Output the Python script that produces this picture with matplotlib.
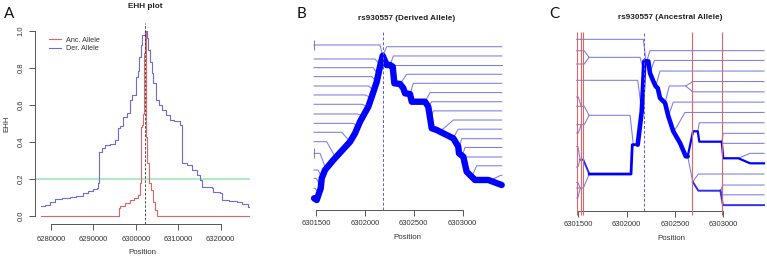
import matplotlib
matplotlib.use('Agg')
import matplotlib.pyplot as plt
from matplotlib.lines import Line2D

plt.rcParams['font.family'] = ['Liberation Sans', 'DejaVu Sans']

W, H = 767, 257

# ---------------- Panel A : EHH decay ----------------
der_x = [6277570, 6278500, 6279760, 6281000, 6282500, 6284480, 6286000, 6287600, 6288800,
         6289970, 6290770, 6291150, 6291390, 6292000, 6292730, 6294000, 6295090, 6295870,
         6296300, 6296900, 6297800, 6298620, 6299200, 6300040, 6300500, 6300820, 6301100,
         6301500, 6302190, 6302700, 6302930, 6303300, 6303730, 6304110, 6304750, 6305400,
         6306090, 6307000, 6308050, 6309000, 6310400, 6310800, 6310950, 6312000, 6313160,
         6314340, 6315120, 6315520, 6317880, 6318300, 6319830, 6320230, 6322000, 6323770,
         6325000, 6326510, 6326900]
der_y = [0.054, 0.060, 0.077, 0.092, 0.095, 0.104, 0.110, 0.122, 0.135,
         0.144, 0.150, 0.176, 0.347, 0.365, 0.383, 0.390, 0.410, 0.473,
         0.486, 0.536, 0.554, 0.626, 0.654, 0.752, 0.780, 0.860, 0.923,
         0.977, 1.000, 0.959, 0.896, 0.830, 0.770, 0.716, 0.626, 0.600,
         0.572, 0.545, 0.518, 0.510, 0.491, 0.482, 0.284, 0.275, 0.248,
         0.221, 0.194, 0.158, 0.150, 0.130, 0.122, 0.086, 0.079, 0.073,
         0.066, 0.047, 0.047]
anc_x = [6277570, 6296100, 6296300, 6297440, 6298620, 6299500, 6300580, 6300980, 6301150,
         6301400, 6301700, 6301900, 6302190, 6302350, 6302450, 6302700, 6303100, 6303570,
         6304110, 6304500, 6304910, 6326900]
anc_y = [0.0, 0.045, 0.055, 0.068, 0.086, 0.095, 0.113, 0.176, 0.480,
         0.490, 0.550, 0.880, 1.000, 0.600, 0.428, 0.284, 0.176, 0.140,
         0.077, 0.030, 0.0, 0.0]
core_pos = 6302180
ehh_limit = 0.2
a_xticks = [6280000, 6290000, 6300000, 6310000, 6320000]
a_yticks = [0.0, 0.2, 0.4, 0.6, 0.8, 1.0]
bc_xticks = [6301500, 6302000, 6302500, 6303000]

# ---------------- Panel B : derived allele bifurcation ----------------
b_main_x = [6301480, 6301507, 6301524, 6301548, 6301558, 6301592, 6301677, 6301848, 6301899,
            6301950, 6302035, 6302070, 6302121, 6302154, 6302182, 6302223, 6302257, 6302284,
            6302301, 6302359, 6302393, 6302410, 6302461, 6302479, 6302615, 6302648, 6302683,
            6302734, 6302904, 6302955, 6302962, 6303006, 6303041, 6303126, 6303262, 6303399]
b_main_y = [16.75, 16.94, 16.39, 15.66, 14.57, 13.66, 12.57, 10.57, 9.65,
            8.38, 6.74, 5.65, 4.01, 2.37, 1.17, 2.19, 2.19, 2.37,
            4.19, 4.26, 4.73, 5.28, 5.36, 6.20, 6.20, 6.74, 9.10,
            9.29, 10.20, 11.11, 11.84, 12.20, 13.85, 14.75, 14.75, 15.30]
b_left_end = 6301480
b_left_depart_x = [6302182, 6302172, 6302138, 6302121, 6302086, 6302070, 6302035, 6301985,
                   6301929, 6301848, 6301694, 6301592, 6301555, 6301548, 6301524]
b_left_depart_y = [1.17, 2.37, 3.28, 4.01, 4.92, 5.79, 6.74, 7.70,
                   8.90, 10.57, 12.20, 13.30, 14.40, 15.40, 16.17]
b_left_kink_x = [6302154, 6302103, 6302086, 6302070, 6302035, 6302001, 6301967, 6301916,
                 6301881, 6301763, 6301609, 6301541, 6301520, 6301500, 6301490]
b_left_level = [0.0, 1.53, 2.48, 3.46, 4.48, 5.46, 6.48, 7.54,
                8.56, 9.54, 10.57, 11.84, 13.66, 14.57, 15.66]
b_left_tick_level = [0.0, 11.84]
b_right_end = 6303399
b_right_depart_x = [6302182, 6302257, 6302284, 6302359, 6302461, 6302615, 6302648, 6302671,
                    6302768, 6302900, 6302958, 6302996, 6303018, 6303092, 6303279]
b_right_depart_y = [1.17, 2.19, 2.20, 4.26, 5.36, 6.20, 6.74, 8.30,
                    9.47, 10.20, 11.50, 12.10, 12.80, 14.40, 14.80]
b_right_kink_x = [6302223, 6302291, 6302290, 6302427, 6302495, 6302666, 6302683, 6302700,
                  6302904, 6302955, 6302990, 6303023, 6303041, 6303143, 6303390]
b_right_level = [0.19, 1.20, 2.20, 3.20, 4.19, 5.20, 6.20, 7.20,
                 8.20, 9.20, 10.24, 11.20, 12.24, 13.20, 14.24]

# ---------------- Panel C : ancestral allele bifurcation ----------------
c_main_x = [6302114, 6302156, 6302183, 6302224, 6302241, 6302276, 6302300, 6302321, 6302345,
            6302397, 6302431, 6302482, 6302552, 6302611, 6302631]
c_main_y = [10.23, 6.99, 2.14, 2.14, 3.27, 4.08, 4.56, 4.73, 5.70,
            6.18, 7.48, 8.93, 10.07, 11.36, 11.36]
c_stem_left_x = [6301614, 6302045, 6302058, 6302114]
c_stem_left_y = [13.08, 13.08, 10.23, 10.23]
c_stem_right_x = [6302631, 6302686, 6302735, 6302751, 6302983, 6302999, 6303155, 6303276, 6303420]
c_stem_right_y = [11.36, 8.93, 8.93, 9.94, 9.94, 11.55, 11.55, 12.04, 12.04]
c_branch_x = [
    [6302207, 6302241, 6303420], [6302241, 6302286, 6303420], [6302300, 6302345, 6303420],
    [6302397, 6302440, 6302610, 6302683, 6303420], [6302610, 6302683, 6303420],
    [6302431, 6302482, 6303420], [6302490, 6302603, 6303420], [6302735, 6302751, 6303420],
    [6302983, 6302999, 6303420], [6302983, 6302999, 6303420], [6303155, 6303276, 6303420],
    [6302631, 6302683, 6302741, 6303420], [6302683, 6302741, 6302969],
    [6302969, 6302995, 6303420], [6302969, 6302995, 6303420], [6302969, 6302995, 6303420],
    [6302200, 6302172, 6301483], [6302175, 6302138, 6301611], [6301611, 6301562, 6301483],
    [6301611, 6301562, 6301483], [6302156, 6302114, 6301483], [6302069, 6302035, 6301611],
    [6301611, 6301562, 6301483], [6301611, 6301562, 6301483], [6301530, 6301500, 6301483],
    [6301530, 6301500, 6301483], [6301614, 6301552, 6301520], [6301520, 6301495, 6301483],
    [6301520, 6301495, 6301483], [6301614, 6301552, 6301483], [6301520, 6301495, 6301483],
    [6301520, 6301495, 6301483]]
c_branch_y = [
    [2.14, 1.10, 1.10], [3.27, 2.05, 2.05], [4.56, 3.08, 3.08],
    [6.18, 4.53, 4.53, 4.10, 4.10], [4.53, 5.10, 5.10],
    [7.48, 6.10, 6.10], [8.95, 7.10, 7.10], [8.93, 8.10, 8.10],
    [9.94, 9.13, 9.13], [9.94, 10.10, 10.10], [11.55, 11.07, 11.07],
    [11.36, 13.83, 13.08, 13.08], [13.83, 14.70, 14.70],
    [14.70, 14.15, 14.15], [14.70, 15.10, 15.10], [14.70, 16.10, 16.10],
    [2.14, 0.0, 0.0], [3.00, 1.75, 1.75], [1.75, 1.11, 1.11],
    [1.75, 2.40, 2.40], [6.99, 3.98, 3.98], [10.23, 7.38, 7.38],
    [7.38, 6.50, 6.50], [7.38, 8.29, 8.29], [6.50, 5.60, 5.60],
    [8.29, 9.10, 9.10], [13.08, 11.69, 11.69], [11.69, 10.40, 10.40],
    [11.69, 12.40, 12.40], [13.08, 14.44, 14.44], [14.44, 13.90, 13.90],
    [14.44, 15.40, 15.40]]
c_branch_kind = ['t', 't', 't', 't', 't', 't', 't', 't', 't', 't', 't', 't', 'm', 't', 't', 'm',
                 't', 't', 't', 't', 't', 't', 't', 't', 't', 't', 'm', 't', 't', 't', 't', 't']
c_marker_pos = [6301483, 6301525, 6301552, 6302676, 6302982]

# ---------------- styling ----------------
AX_COL = '#555555'
TXT_COL = '#333333'
THIN = '#7b7be6'
MED = '#3030ee'
MAIN = '#0000ff'
FS = 5.5


def box(l, r, t, b):
    return [l / W, 1 - b / H, (r - l) / W, (b - t) / H]


def style_x(ax, bounds, ticks, pad):
    for s in ['top', 'right', 'left']:
        ax.spines[s].set_visible(False)
    ax.spines['bottom'].set_bounds(*bounds)
    ax.spines['bottom'].set_color(AX_COL)
    ax.spines['bottom'].set_linewidth(0.7)
    ax.set_xticks(ticks)
    ax.set_xticklabels([str(t) for t in ticks])
    ax.tick_params(axis='x', length=4.2, width=0.7, color=AX_COL, labelsize=FS,
                   labelcolor=TXT_COL, pad=pad)


fig = plt.figure(figsize=(W / 100, H / 100), dpi=100)

# ---- Panel A ----
axA = fig.add_axes(box(35, 250, 22.7, 224))
axA.set_xlim(6276229, 6326907)
axA.set_ylim(-0.0432, 1.0432)
axA.axhline(ehh_limit, color='#b2eac6', lw=1.5, zorder=1)
axA.plot(anc_x, anc_y, drawstyle='steps-post', color='#e26464', lw=0.8, zorder=2)
axA.plot(der_x, der_y, drawstyle='steps-post', color='#6c6cd8', lw=0.8, zorder=3)
axA.axvline(core_pos, color='#333333', lw=0.6, ls=(0, (3, 2)), zorder=4)
style_x(axA, (6280000, 6320000), a_xticks, 4.3)
axA.spines['left'].set_visible(True)
axA.spines['left'].set_bounds(0, 1)
axA.spines['left'].set_color(AX_COL)
axA.spines['left'].set_linewidth(0.7)
axA.set_yticks(a_yticks)
axA.set_yticklabels(['%.1f' % v for v in a_yticks])
axA.tick_params(axis='y', length=4.2, width=0.7, color=AX_COL, labelsize=FS,
                labelcolor=TXT_COL, pad=3.3)
for lab in axA.get_yticklabels():
    lab.set_rotation(90)
    lab.set_va('center')
axA.set_xlabel('Position', fontsize=5.7, color=TXT_COL, labelpad=4.5)
axA.set_ylabel('EHH', fontsize=5.7, color=TXT_COL, labelpad=5.5)
handles = [Line2D([], [], color='#e26464', lw=0.8), Line2D([], [], color='#6c6cd8', lw=0.8)]
axA.legend(handles, ['Anc. Allele', 'Der. Allele'], loc='upper left',
           bbox_to_anchor=(0.065, 0.93), frameon=False, fontsize=5.2,
           handlelength=1.6, handletextpad=0.8, borderpad=0, borderaxespad=0,
           labelspacing=0.22, labelcolor=TXT_COL)
fig.text(145 / W, 1 - 6.7 / H, 'EHH plot', ha='center', va='center', fontsize=5.9,
         fontweight='bold', color='#222222')

# ---- Panel B ----
axB = fig.add_axes(box(304.7, 510, 31.7, 210))
axB.set_xlim(6301384, 6303484)
axB.set_ylim(18.03, -1.45)
for i in range(len(b_left_level)):
    axB.plot([b_left_end, b_left_kink_x[i], b_left_depart_x[i]],
             [b_left_level[i], b_left_level[i], b_left_depart_y[i]],
             color=THIN, lw=0.75, zorder=2)
for lv in b_left_tick_level:
    axB.vlines(b_left_end, lv - 0.55, lv + 0.55, color=THIN, lw=0.75, zorder=2)
for i in range(len(b_right_level)):
    axB.plot([b_right_depart_x[i], b_right_kink_x[i], b_right_end],
             [b_right_depart_y[i], b_right_level[i], b_right_level[i]],
             color=THIN, lw=0.75, zorder=2)
axB.plot(b_main_x, b_main_y, color=MAIN, lw=4.6, solid_capstyle='round',
         solid_joinstyle='round', zorder=3)
axB.axvline(core_pos, color='#5a5ae6', lw=0.7, ls=(0, (3, 2)), zorder=4)
style_x(axB, (6301500, 6303000), bc_xticks, 3)
axB.set_yticks([])
axB.set_xlabel('Position', fontsize=5.7, color=TXT_COL, labelpad=5)
fig.text(406.7 / W, 1 - 18.3 / H, 'rs930557 (Derived Allele)', ha='center', va='center',
         fontsize=5.9, fontweight='bold', color='#222222')

# ---- Panel C ----
axC = fig.add_axes(box(569.5, 773, 31.7, 211))
axC.set_xlim(6301409, 6303513)
axC.set_ylim(16.67, -0.74)
for xs, ys, k in zip(c_branch_x, c_branch_y, c_branch_kind):
    axC.plot(xs, ys, color=THIN if k == 't' else MED, lw=0.75 if k == 't' else 1.4,
             zorder=2)
axC.plot(c_stem_left_x, c_stem_left_y, color=MAIN, lw=2.0, zorder=3,
         solid_joinstyle='round')
axC.plot(c_stem_right_x, c_stem_right_y, color=MAIN, lw=1.6, zorder=3,
         solid_joinstyle='round')
axC.plot(c_main_x, c_main_y, color=MAIN, lw=3.3, solid_capstyle='round',
         solid_joinstyle='round', zorder=3)
axC.vlines(c_marker_pos, -0.74, 17.06, color='#e06666', lw=0.8, zorder=5, clip_on=False)
axC.axvline(core_pos, color='#5a5ae6', lw=0.7, ls=(0, (3, 2)), zorder=4)
style_x(axC, (6301500, 6303000), bc_xticks, 3)
axC.set_yticks([])
axC.set_xlabel('Position', fontsize=5.7, color=TXT_COL, labelpad=5)
fig.text(670 / W, 1 - 17.3 / H, 'rs930557 (Ancestral Allele)', ha='center', va='center',
         fontsize=5.9, fontweight='bold', color='#222222')

# panel letters
for letter, px, py in [('A', 8.7, 14.5), ('B', 301.7, 14.3), ('C', 554.7, 14.3)]:
    fig.text(px / W, 1 - py / H, letter, ha='center', va='center', fontsize=11,
             family=['Lato', 'DejaVu Sans'], color='#111111')

fig.savefig('out.png', dpi=100)
